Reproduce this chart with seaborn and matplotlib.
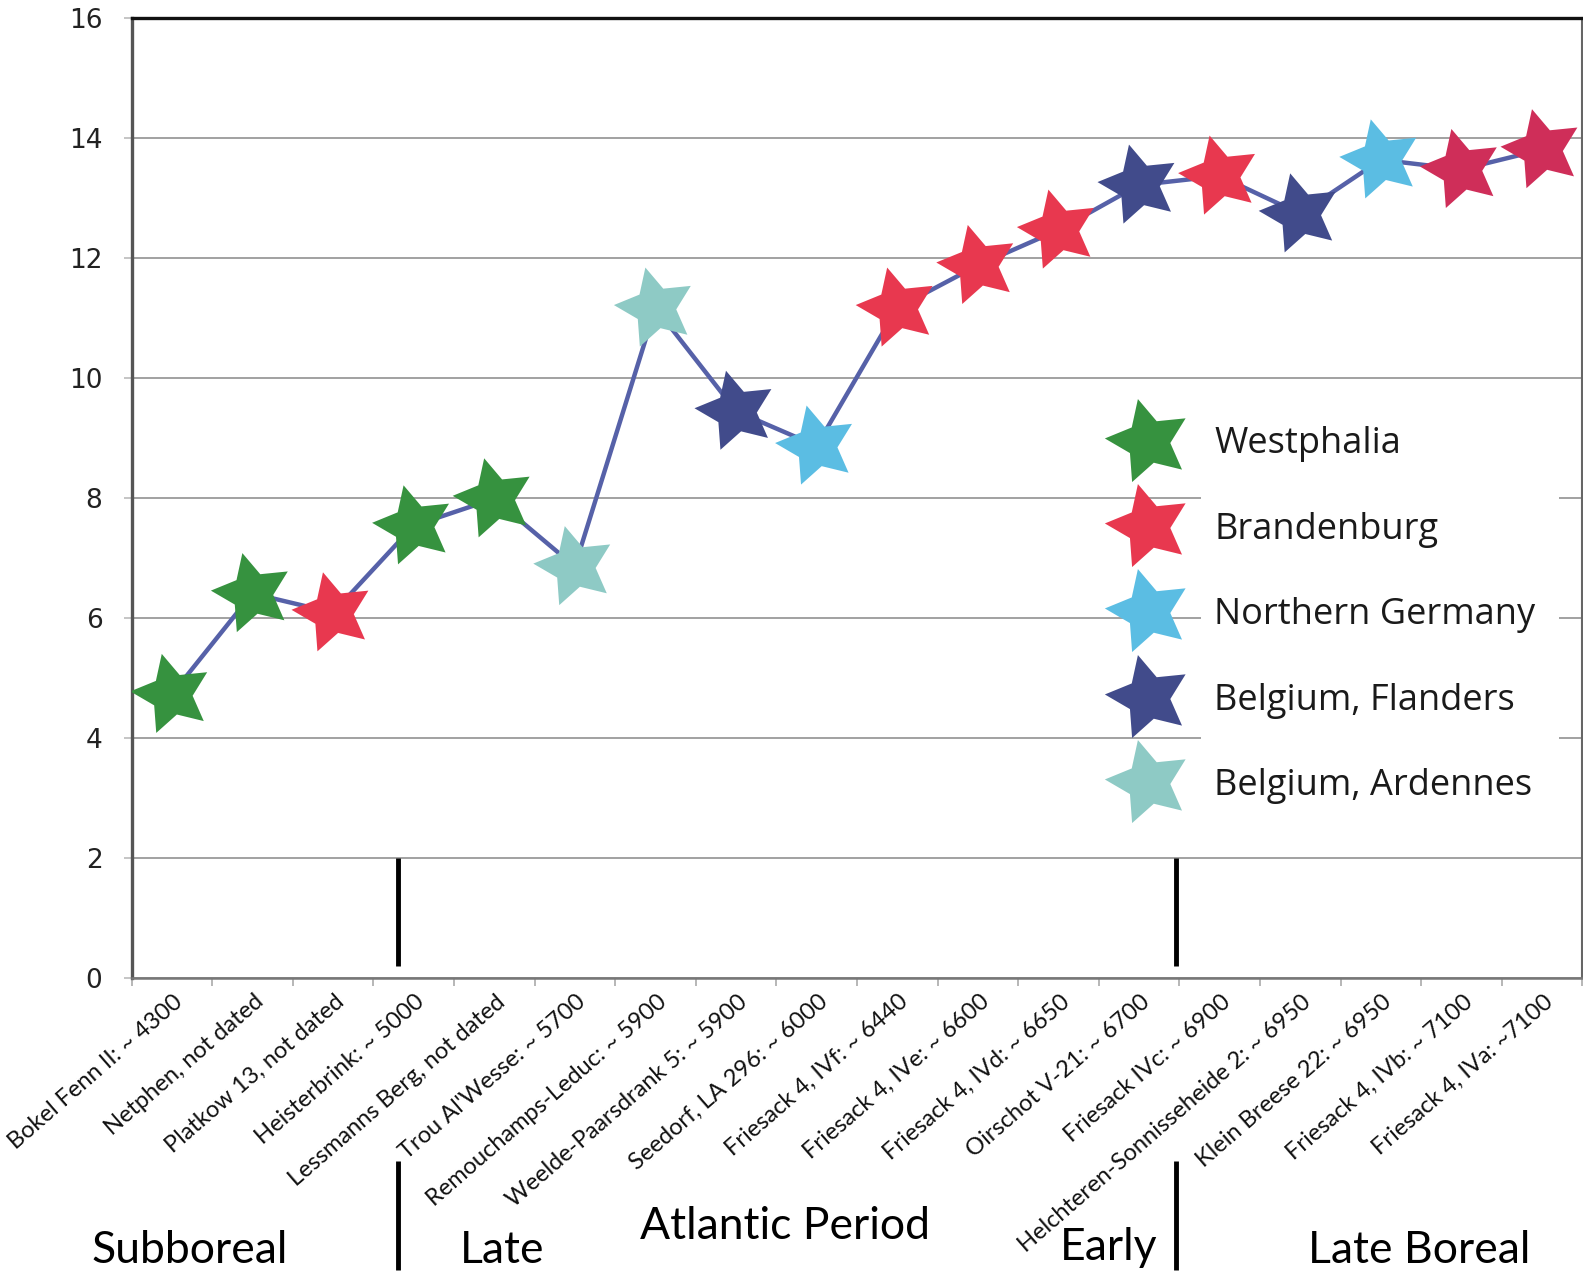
import numpy as np
import pandas as pd
import matplotlib
matplotlib.use("Agg")
import matplotlib.pyplot as plt
import seaborn as sns
from matplotlib.path import Path
from matplotlib.markers import MarkerStyle
from matplotlib.transforms import Affine2D
from matplotlib.lines import Line2D
from matplotlib.patches import Rectangle

# --- data ---
sites = [
    "Bokel Fenn II: ~ 4300", "Netphen, not dated", "Platkow 13, not dated",
    "Heisterbrink: ~ 5000", "Lessmanns Berg, not dated", "Trou Al'Wesse: ~ 5700",
    "Remouchamps-Leduc: ~ 5900", "Weelde-Paarsdrank 5: ~ 5900", "Seedorf, LA 296: ~ 6000",
    "Friesack 4, IVf: ~ 6440", "Friesack 4, IVe: ~ 6600", "Friesack 4, IVd: ~ 6650",
    "Oirschot V-21: ~ 6700", "Friesack IVc: ~ 6900", "Helchteren-Sonnisseheide 2: ~ 6950",
    "Klein Breese 22: ~ 6950", "Friesack 4, IVb: ~ 7100", "Friesack 4, IVa: ~7100",
]
values = [4.73, 6.41, 6.09, 7.54, 7.99, 6.86, 11.17, 9.45, 8.87,
          11.17, 11.88, 12.47, 13.22, 13.37, 12.74, 13.64, 13.48, 13.81]
point_colors = ["#36923f", "#36923f", "#e8384f", "#36923f", "#36923f", "#8ecac5",
                "#8ecac5", "#414b8b", "#5bbde3", "#e8384f", "#e8384f", "#e8384f",
                "#414b8b", "#e8384f", "#414b8b", "#5bbde3", "#cf2e59", "#cf2e59"]

region_names = ["Westphalia", "Brandenburg", "Northern Germany",
                "Belgium, Flanders", "Belgium, Ardennes"]
region_colors = ["#36923f", "#e8384f", "#5bbde3", "#414b8b", "#8ecac5"]

periods = ["Subboreal", "Late", "Atlantic Period", "Early", "Late Boreal"]
period_x = [0.22, 4.1, 7.61, 11.62, 15.47]
period_y = [-0.297, -0.297, -0.272, -0.294, -0.297]
dividers = [2.80, 12.46]

df = pd.DataFrame({"pos": np.arange(len(sites)), "site": sites,
                   "value": values, "shade": point_colors})

sns.set_style("white")
plt.rcParams["font.family"] = ["DejaVu Sans"]

# fat, slightly tilted star like the original
k = np.arange(10)
ang = np.deg2rad(90 + k * 36)
rad = np.where(k % 2 == 0, 1.0, 0.5)
verts = np.column_stack([rad * np.cos(ang), rad * np.sin(ang)])
verts = np.vstack([verts, verts[:1]])
star = MarkerStyle(Path(verts, closed=True), transform=Affine2D().rotate_deg(14))

fig = plt.figure(figsize=(15.83, 12.74), dpi=100)
ax = fig.add_axes([0.0831, 0.2323, 0.9165, 0.7534])

sns.lineplot(data=df, x="pos", y="value", color="#5661a8", linewidth=3.2, ax=ax, zorder=2)
sns.scatterplot(data=df, x="pos", y="value", hue="shade",
                palette={c: c for c in point_colors}, marker=star, s=3600,
                linewidth=0, edgecolor="none", legend=False, ax=ax, zorder=3)

ax.set_xlim(-0.5, len(sites) - 0.5)
ax.set_ylim(0, 16)
ax.set_yticks(np.arange(0, 17, 2))
ax.yaxis.grid(True, color="#9a9a9a", linewidth=1.3)
ax.xaxis.grid(False)
ax.set_xlabel("")
ax.set_ylabel("")

# labels sit a little right of each category centre, as in the original
ax.set_xticks(df["pos"] + 0.1)
ax.set_xticklabels(sites, rotation=41, ha="right", va="center", rotation_mode="anchor",
                   fontfamily="Lato", fontsize=17, color="#111111")
ax.set_xticks(np.arange(-0.5, len(sites)), minor=True)
ax.tick_params(axis="x", which="major", length=0, pad=15)
ax.tick_params(axis="x", which="minor", length=6, color="#aaaaaa", width=1.2, bottom=True)
ax.tick_params(axis="y", length=6, color="#bbbbbb", width=1.2, pad=15, labelsize=19,
               labelcolor="#222222", left=True)

for side, col, lw in [("top", "#111111", 2.4), ("left", "#555555", 2.4),
                      ("right", "#666666", 1.5), ("bottom", "#777777", 1.8)]:
    ax.spines[side].set_visible(True)
    ax.spines[side].set_color(col)
    ax.spines[side].set_linewidth(lw)

# white patch behind legend text, hides gridlines there
ax.add_patch(Rectangle((0.737, 0.165), 0.247, 0.437, transform=ax.transAxes,
                       facecolor="white", edgecolor="none", zorder=1))

handles = [Line2D([], [], marker=star, markersize=63, color=c, linestyle="none",
                  markeredgewidth=0) for c in region_colors]
leg = ax.legend(handles, region_names, loc="upper left", bbox_to_anchor=(0.676, 0.575),
                frameon=False, borderpad=0, borderaxespad=0, handlelength=2,
                handletextpad=0.83, labelspacing=1.37,
                prop={"family": "Open Sans", "size": 26})
for t in leg.get_texts():
    t.set_color("#1a1a1a")

# period dividers inside the plot and below the labels
trans = ax.get_xaxis_transform()
for d in dividers:
    ax.plot([d, d], [0.2 / 16, 2 / 16], transform=trans, color="black", lw=3.5,
            solid_capstyle="butt", zorder=4)
    ax.plot([d, d], [-0.191, -0.304], transform=trans, color="black", lw=3.5,
            solid_capstyle="butt", clip_on=False)

for name, px, py in zip(periods, period_x, period_y):
    ax.text(px, py, name, transform=trans, ha="center", va="baseline",
            fontfamily="Lato", fontsize=32, color="black", clip_on=False)

fig.savefig("out.png", dpi=100)
